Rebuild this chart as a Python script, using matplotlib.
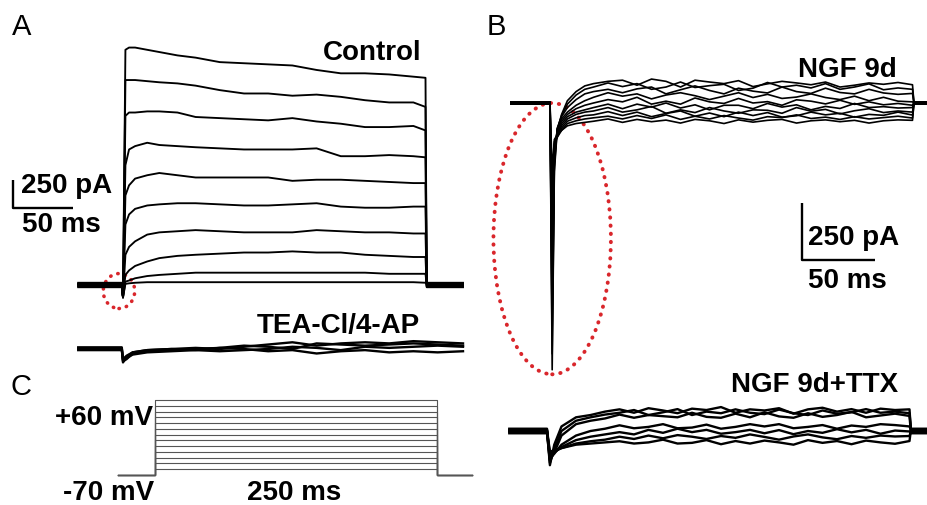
import matplotlib
matplotlib.use('Agg')
import matplotlib.pyplot as plt
from matplotlib.patches import Ellipse

plt.rcParams['font.family'] = ['Liberation Sans', 'DejaVu Sans']

# ---------------- data (times in ms, currents in pA, voltages in mV) ----------------
# A, Control: holding level, capacitive notch, then the 17 step samples
ctrl_t = [-37, -1, 0, 2, 5, 10, 20, 30, 45, 60, 80, 100, 120, 140, 160, 180, 200, 220, 240, 250, 251, 281]
ctrl_hold = [-15, 10, -5, 15, -10, 5, 20, -20, 0, 10]
ctrl_cap = -110
ctrl_step = [
    [2100, 2120, 2120, 2100, 2080, 2050, 2030, 1990, 1980, 1970, 1960, 1920, 1890, 1890, 1880, 1860, 1850],
    [1830, 1830, 1830, 1820, 1810, 1800, 1780, 1740, 1710, 1710, 1690, 1700, 1680, 1650, 1630, 1630, 1590],
    [1510, 1540, 1540, 1550, 1550, 1540, 1500, 1490, 1480, 1470, 1490, 1460, 1440, 1410, 1410, 1420, 1380],
    [1070, 1210, 1240, 1270, 1250, 1240, 1230, 1220, 1210, 1210, 1210, 1220, 1150, 1150, 1160, 1150, 1140],
    [800, 890, 950, 980, 1000, 980, 960, 960, 960, 960, 930, 940, 940, 930, 920, 910, 910],
    [540, 630, 680, 710, 720, 730, 730, 720, 710, 710, 720, 730, 700, 690, 690, 700, 700],
    [270, 340, 390, 450, 470, 480, 490, 480, 470, 470, 470, 490, 480, 470, 470, 460, 460],
    [90, 130, 170, 210, 240, 260, 270, 280, 290, 290, 300, 290, 290, 270, 260, 250, 250],
    [30, 40, 60, 80, 90, 100, 110, 110, 110, 110, 110, 110, 110, 110, 100, 100, 100],
    [10, 15, 20, 25, 25, 25, 25, 25, 25, 25, 25, 25, 25, 25, 25, 25, 20],
]

# A, TEA-Cl/4-AP
tea_t = [-37, -1, 0, 3, 8, 20, 40, 60, 80, 100, 120, 140, 160, 180, 200, 220, 240, 260, 281]
tea = [
    [0, 0, -120, -70, -30, -10, 0, 10, 0, 20, 40, 60, 30, 50, 60, 50, 70, 60, 50],
    [15, 15, -110, -90, -40, -20, -10, 0, 10, 0, -20, -10, -40, -20, -10, -30, -20, -30, -20],
    [-10, -10, -100, -80, -50, -30, -20, -10, -20, -10, 0, 20, 10, -10, 20, 10, 20, 30, 20],
    [5, 5, -90, -60, -30, -10, 0, -10, 10, 30, 20, 0, 50, 40, 30, 40, 50, 40, 30],
]

# B, NGF 9d: onset samples, then sustained samples every 10 ms from 30 to 250 ms
ngf_on_t = [-27, 0, 1.5, 3, 5, 8, 12, 18, 24]
ngf_sus_t = [30, 40, 50, 60, 70, 80, 90, 100, 110, 120, 130, 140, 150, 160, 170, 180, 190, 200, 210, 220, 230, 240, 250]
ngf_end_t = [251, 261]
ngf_on = [
    [0, 0, -1170, -300, -120, -50, 10, 50, 75],
    [5, 5, -1100, -280, -115, -55, -5, 35, 60],
    [-5, -5, -1000, -260, -110, -60, -20, 15, 40],
    [0, 0, -900, -240, -115, -70, -40, -10, 10],
    [5, 5, -800, -220, -120, -80, -50, -25, -10],
    [-5, -5, -700, -200, -130, -90, -60, -40, -30],
    [0, 0, -600, -190, -140, -100, -70, -50, -40],
    [5, 5, -500, -180, -150, -110, -80, -65, -55],
    [-5, -5, -400, -170, -150, -120, -90, -78, -70],
    [0, 0, -300, -160, -140, -120, -100, -90, -85],
]
ngf_sus = [
    [85, 95, 100, 78, 105, 95, 70, 100, 92, 85, 98, 72, 84, 95, 88, 80, 92, 70, 78, 88, 82, 90, 80],
    [70, 88, 72, 85, 60, 70, 92, 68, 76, 82, 55, 65, 90, 70, 78, 66, 85, 60, 70, 84, 58, 66, 60],
    [50, 60, 45, 62, 70, 40, 58, 75, 55, 40, 65, 52, 44, 70, 50, 42, 65, 46, 40, 60, 44, 38, 42],
    [25, 45, 30, 40, 18, 35, 45, 32, 15, 30, 45, 24, 38, 20, 26, 40, 24, 15, 30, 10, 25, 8, 5],
    [0, 15, 5, 25, -5, 8, -5, 22, 5, -2, 20, 0, 6, -10, 14, 8, -4, 12, -6, 5, -8, -2, -10],
    [-20, -5, -25, -5, -18, 0, -22, -8, -30, -10, -10, -25, -2, -18, -8, -30, -15, -24, -2, -20, -16, -22, -20],
    [-35, -20, -40, -30, -15, -45, -30, -42, -20, -35, -45, -30, -32, -45, -20, -36, -28, -48, -34, -25, -42, -35, -40],
    [-52, -38, -55, -40, -60, -46, -35, -58, -44, -60, -40, -55, -42, -62, -56, -40, -52, -45, -62, -50, -54, -40, -53],
    [-65, -58, -70, -55, -68, -52, -72, -58, -70, -55, -66, -75, -60, -64, -52, -68, -62, -72, -60, -70, -64, -58, -66],
    [-80, -70, -85, -72, -82, -75, -88, -72, -78, -90, -74, -84, -76, -72, -88, -78, -74, -82, -76, -88, -78, -74, -76],
]

# B, NGF 9d + TTX
ttx_on_t = [-26, 0, 2, 5, 10, 20]
ttx_sus_t = ngf_sus_t
ttx_end_t = [251, 263]
ttx_on = [
    [0, 0, -150, -60, 20, 60],
    [10, 10, -140, -80, 0, 45],
    [-10, -10, -130, -95, -20, 30],
    [5, 5, -120, -100, -60, -20],
    [-5, -5, -110, -95, -70, -40],
    [0, 0, -100, -90, -75, -55],
    [5, 5, -90, -85, -75, -60],
]
ttx_sus = [
    [70, 85, 95, 80, 100, 90, 78, 98, 92, 105, 80, 95, 90, 100, 76, 95, 102, 85, 96, 80, 98, 92, 95],
    [60, 72, 80, 92, 70, 82, 96, 70, 85, 78, 95, 80, 74, 94, 78, 70, 90, 76, 82, 96, 80, 85, 78],
    [45, 55, 72, 58, 70, 65, 60, 80, 62, 58, 76, 60, 82, 64, 58, 78, 62, 70, 84, 60, 68, 76, 66],
    [0, 10, 25, 12, 18, 30, 12, 15, 28, 10, 18, 30, 20, 30, 12, 18, 26, 10, 24, 18, 30, 26, 20],
    [-25, -15, -5, -15, 5, -8, 10, -5, 5, -12, -5, 5, -10, 4, -14, 0, -8, 8, -6, 5, -12, 2, -2],
    [-45, -38, -25, -35, -20, -32, -18, -25, -35, -22, -30, -15, -26, -38, -24, -15, -28, -36, -22, -30, -20, -24, -22],
    [-55, -50, -45, -55, -50, -38, -55, -52, -40, -58, -44, -55, -42, -50, -60, -40, -52, -44, -58, -42, -50, -56, -44],
]

# C, voltage protocol
v_hold = -70
v_steps = [-60, -50, -40, -30, -20, -10, 0, 10, 20, 30, 40, 50, 60]
step_t = [-33, 0, 0, 250, 250, 281]

# ---------------- layout ----------------
W, H = 928, 505
fig = plt.figure(figsize=(W / 100, H / 100), dpi=100)


def panel(box, ox, oy, sx, sy):
    # box in pixels (left, top, right, bottom); (ox, oy) pixel of data origin; sx, sy px per unit
    l, t, r, b = box
    ax = fig.add_axes([l / W, 1 - b / H, (r - l) / W, (b - t) / H])
    ax.set_xlim((l - ox) / sx, (r - ox) / sx)
    ax.set_ylim((oy - b) / sy, (oy - t) / sy)
    ax.axis('off')
    return ax


def label(x, y, s, size=20, weight='bold', ha='left'):
    fig.text(x / W, 1 - y / H, s, fontsize=size, fontweight=weight, ha=ha, va='baseline')


red = '#d9262b'
dotted = (0, (0.1, 2.0))

# A: control
axA = panel((0, 30, 475, 315), 123, 285, 1.21, 0.112)
for hold, step in zip(ctrl_hold, ctrl_step):
    axA.plot(ctrl_t, [hold, hold, ctrl_cap] + step + [hold, hold], color='black', lw=1.35)
axA.add_patch(Ellipse((-3.3, -54), 26, 312, fill=False, edgecolor=red, lw=2.6,
                      linestyle=dotted, capstyle='round', clip_on=False))
axA.plot([-91, -91, -41], [938, 688, 688], color='black', lw=1.7, solid_capstyle='butt')

# A: TEA
axT = panel((0, 325, 475, 375), 123, 349, 1.21, 0.112)
for tr in tea:
    axT.plot(tea_t, tr, color='black', lw=1.7)

# B: NGF 9d
axB = panel((480, 40, 928, 380), 550, 103, 1.45, 0.228)
for on, sus in zip(ngf_on, ngf_sus):
    axB.plot(ngf_on_t + ngf_sus_t + ngf_end_t, on + sus + [on[0], on[0]], color='black', lw=1.2)
axB.add_patch(Ellipse((1.5, -595), 81, 1190, fill=False, edgecolor=red, lw=2.8,
                      linestyle=dotted, capstyle='round', clip_on=False))
axB.plot([173.8, 173.8, 223.8], [-439, -689, -689], color='black', lw=1.7, solid_capstyle='butt')

# B: NGF 9d + TTX
axX = panel((480, 390, 928, 485), 547, 431, 1.45, 0.228)
for on, sus in zip(ttx_on, ttx_sus):
    axX.plot(ttx_on_t + ttx_sus_t + ttx_end_t, on + sus + [on[0], on[0]], color='black', lw=1.7)

# C: protocol
axC = panel((100, 390, 480, 480), 155, 475 - 70 * 0.577, 1.128, 0.577)
for v in v_steps:
    axC.plot(step_t, [v_hold, v_hold, v, v, v_hold, v_hold], color='#555555', lw=0.8)

# text
label(12, 35, 'A', size=21, weight='normal')
label(487, 35, 'B', size=21, weight='normal')
label(10, 395, 'C', size=21, weight='normal')
label(323, 60, 'Control')
label(257, 333, 'TEA-Cl/4-AP')
label(21, 193, '250 pA')
label(22, 232, '50 ms')
label(897, 77, 'NGF 9d', ha='right')
label(898, 392, 'NGF 9d+TTX', ha='right')
label(808, 245, '250 pA')
label(808, 288, '50 ms')
label(55, 425, '+60 mV')
label(63, 500, '-70 mV')
label(247, 500, '250 ms')

fig.savefig('out.png', dpi=100)
